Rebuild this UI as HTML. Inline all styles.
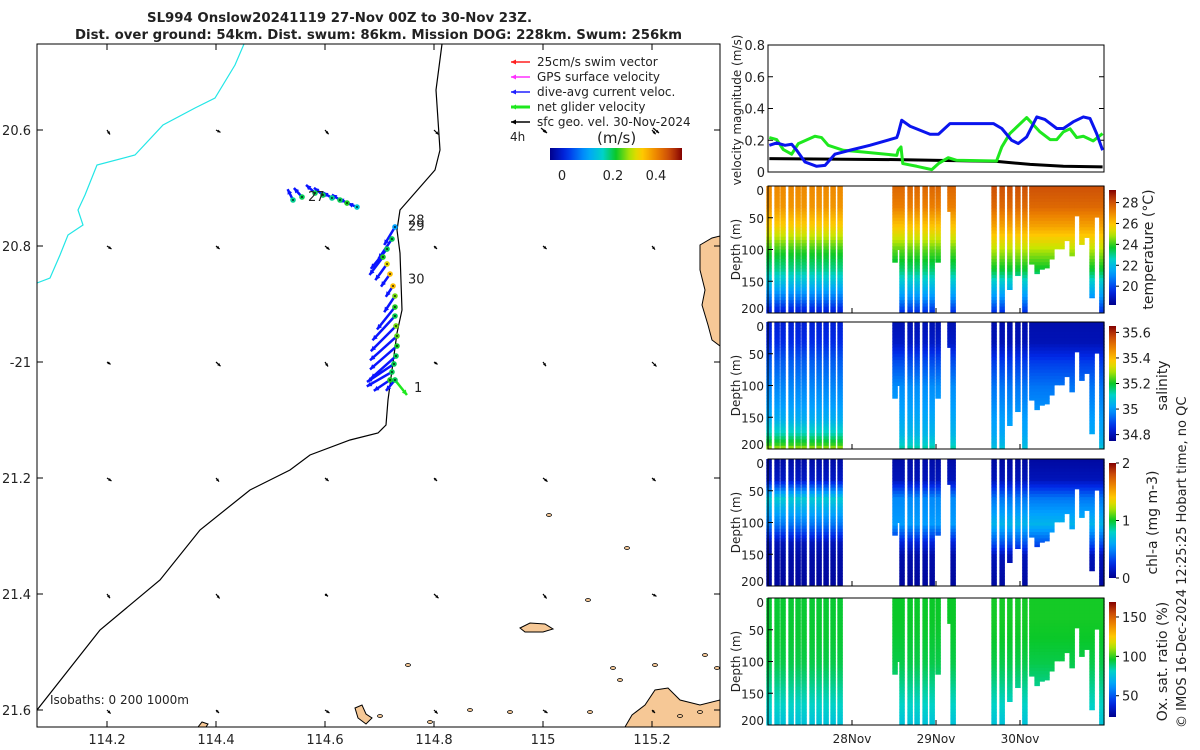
<!DOCTYPE html>
<html><head><meta charset="utf-8"><style>
html,body{margin:0;padding:0;background:#fff;width:1200px;height:750px;overflow:hidden}
svg text{font-family:"DejaVu Sans","Liberation Sans",sans-serif;fill:#222}
</style></head><body>
<svg id="fig" width="1200" height="750" viewBox="0 0 1200 750" xmlns="http://www.w3.org/2000/svg">
<text x="147" y="22" textLength="385" lengthAdjust="spacingAndGlyphs" font-size="13" font-weight="bold">SL994 Onslow20241119 27-Nov 00Z to 30-Nov 23Z.</text>
<text x="75" y="39" textLength="607" lengthAdjust="spacingAndGlyphs" font-size="13" font-weight="bold">Dist. over ground: 54km. Dist. swum: 86km. Mission DOG: 228km. Swum: 256km</text>
<text transform="translate(1186,728) rotate(-90)" font-size="13">© IMOS 16-Dec-2024 12:25:25 Hobart time, no QC</text>
</svg>
<script>
// ---------- velocity chart data ----------
const curHours=[0.38,2.48,4.86,6.76,8.19,10.57,13.9,16.3,19.1,23.4,29.1,36.8,37.2,38.2,40.6,46.3,48.7,52,64.4,66.8,69.6,71.5,73.9,76.8,79.1,82.5,84.4,87.2,90.1,92,93.9,95.6];
const curVals=[0.168,0.183,0.168,0.175,0.137,0.063,0.036,0.042,0.112,0.137,0.168,0.217,0.242,0.326,0.288,0.238,0.238,0.305,0.305,0.274,0.2,0.179,0.221,0.347,0.331,0.274,0.274,0.316,0.347,0.337,0.242,0.137];
const netHours=[0.38,2.48,4.38,6.76,8.67,13.4,15.3,17.2,21.5,27.2,36.8,37.2,38.0,38.5,42.5,46.8,48.7,51.5,53.9,65.3,66.8,69.1,73.9,77.7,80.6,82.5,84.4,86.3,88.2,90.1,92.9,95.6];
const netVals=[0.217,0.204,0.141,0.112,0.179,0.225,0.217,0.168,0.137,0.126,0.105,0.137,0.158,0.053,0.036,0.015,0.053,0.09,0.074,0.069,0.158,0.242,0.343,0.253,0.204,0.204,0.253,0.272,0.217,0.225,0.196,0.242];
const geoHours=[0.38,36.8,65.3,74.9,84.4,95.6];
const geoVals=[0.084,0.078,0.067,0.048,0.036,0.032];
const velTicks=[0,0.2,0.4,0.6,0.8];
const dayLabels=["28Nov","29Nov","30Nov"];
const dayHours=[24,48,72];
// ---------- section profiles ----------
const profHours=[0.3,2.6,4.3,6.6,8.6,10.3,12.6,14.6,16.6,18.6,20.6,
 36.3,37.1,38.3,40.6,42.6,44.9,46.9,48.6,52,52.9,
 64.6,66.9,69.1,71.4,73.4,75.4,76.9,78.3,79.7,81.1,82.6,84,85.4,86.9,88.3,89.7,91.1,92.6,94,95.4];
const profDepths=[200,200,200,200,200,200,200,200,200,200,200,
 120,100,200,200,200,200,200,120,40,200,
 200,200,163,141,200,123,138,131,129,115,99,99,86,110,47,92,81,176,49,200];
const profGroup=[0,0,0,0,0,0,0,0,0,0,0, 1,1,1,1,1,1,1,1,1,1, 2,2,2,2,2,2,2,2,2,2,2,2,2,2,2,2,2,2,2,2];
const depthTicks=[0,50,100,150,200];
const panelNames=["temperature","salinity","chl-a","oxygen"];
const panelLabels=["temperature (°C)","salinity","chl-a (mg m-3)","Ox. sat. ratio (%)"];
const cbMin=[18.2,34.75,0,23];
const cbMax=[29.2,35.65,2,169];
const cbTicks=[[20,22,24,26,28],[34.8,35,35.2,35.4,35.6],[0,1,2],[50,100,150]];
const cbTickLabels=[["20","22","24","26","28"],["34.8","35","35.2","35.4","35.6"],["0","1","2"],["50","100","150"]];
// depth knots and mean profiles per group [group0, group1, group2]
const knotDepths=[0,30,60,100,130,150,175,190,200];
const tempProf=[[27.0,26.8,25.8,23.9,23.0,22.0,20.6,19.6,19.1],[27.6,27.2,26.0,24.2,23.2,22.2,21.0,20.0,19.4],[28.0,27.6,26.6,24.8,23.6,22.3,21.0,20.0,19.4]];
const salProf=[[34.84,34.86,34.92,34.97,35.0,35.03,35.13,35.22,35.32],[34.8,34.82,34.9,34.98,35.0,35.02,35.05,35.1,35.15],[34.79,34.8,34.88,34.95,34.98,35.0,35.02,35.05,35.1]];
const chlProf=[[0.08,0.15,0.75,0.45,0.12,0.07,0.06,0.05,0.05],[0.08,0.12,0.5,0.55,0.2,0.08,0.06,0.05,0.05],[0.06,0.12,0.45,0.65,0.35,0.12,0.08,0.06,0.06]];
const oxyProf=[[95,95,95,93,88,84,80,77,76],[96,96,95,93,88,84,80,77,76],[97,97,96,93,88,84,80,77,76]];
// ---------- map data ----------
const lonTicks=[114.2,114.4,114.6,114.8,115,115.2];
const lonLabels=["114.2","114.4","114.6","114.8","115","115.2"];
const latTicks=[20.6,20.8,21,21.2,21.4,21.6];
const latLabels=["20.6","20.8","-21","21.2","21.4","21.6"];
const trackLon=[114.5413,114.5578,114.5817,114.5963,114.6128,114.6275,114.6404,114.6587,
 114.7284,114.7229,114.7138,114.7064,114.7138,114.7193,114.7248,114.7284,114.7284,114.7284,114.7303,114.7321,114.7321,114.7303,114.7266,114.7229,114.7193,114.7284];
const trackLat=[20.7207,20.7155,20.7086,20.7121,20.7172,20.7207,20.7259,20.7328,
 20.7672,20.7879,20.8052,20.8190,20.8310,20.8483,20.8690,20.8862,20.9052,20.9207,20.9379,20.9552,20.9724,20.9897,21.0034,21.0172,21.0310,21.0310];
const trackU=[-0.06,-0.09,-0.1,-0.1,-0.1,-0.09,-0.09,-0.1,
 -0.12,-0.15,-0.18,-0.15,-0.13,-0.1,-0.08,-0.12,-0.2,-0.25,-0.28,-0.3,-0.3,-0.28,-0.3,-0.28,-0.18,-0.1];
const trackV=[-0.12,-0.1,-0.09,-0.08,-0.06,-0.06,-0.05,-0.04,
 0.2,0.22,0.22,0.2,0.18,0.14,0.12,0.18,0.25,0.27,0.28,0.27,0.26,0.25,0.2,0.16,0.12,0.12];
const trackSpeed=[0.18,0.2,0.2,0.2,0.18,0.2,0.22,0.15,0.1,0.2,0.2,0.22,0.3,0.33,0.33,0.25,0.22,0.2,0.25,0.24,0.22,0.2,0.2,0.2,0.22,0.2];
const dayMarkLabels=["27","28","29","30","1"];
const dayMarkLon=[114.5688,114.7523,114.7523,114.7523,114.7633];
const dayMarkLat=[20.722,20.763,20.773,20.865,21.052];
const gridU=[0.01,0.015,0.012,0.015,0.01,0.012];
const gridV=[0.015,0.01,0.008,0.01,0.014,0.012];

const NS="http://www.w3.org/2000/svg";
const svg=document.getElementById("fig");
function el(tag,attrs,parent){const e=document.createElementNS(NS,tag);for(const k in attrs)e.setAttribute(k,attrs[k]);(parent||svg).appendChild(e);return e;}
function txt(x,y,s,size,anchor,parent){const t=el("text",{x:x,y:y,"font-size":size,"text-anchor":anchor||"start"},parent);t.textContent=s;return t;}
const cmapPos=[0,0.12,0.28,0.4,0.5,0.62,0.7,0.82,0.92,1];
const cmapCol=[[0,0,140],[0,40,230],[0,160,255],[0,210,200],[10,200,40],[200,230,0],[255,200,0],[235,125,0],[195,65,10],[130,0,0]];
function jet(t){t=Math.max(0,Math.min(1,t));let k=0;while(k<cmapPos.length-2&&t>cmapPos[k+1])k++;
 const f=(t-cmapPos[k])/(cmapPos[k+1]-cmapPos[k]);const a=cmapCol[k],b=cmapCol[k+1];
 return "rgb("+[0,1,2].map(i=>Math.round(a[i]+(b[i]-a[i])*f)).join(",")+")";}

// ===================== MAP =====================
const mapL=37,mapR=720,mapT=44,mapB=727;
const lonX=lon=>107+(lon-114.2)*545;
const latY=lat=>130+(lat-20.6)*580;
const map=el("g",{});


const cp=el("clipPath",{id:"mapclip"});
el("rect",{x:mapL,y:mapT,width:mapR-mapL,height:mapB-mapT},cp);
const mc=el("g",{"clip-path":"url(#mapclip)"},map);
const lands=[
 "M700,245 L712,238 L720,236 L720,346 L712,340 L708,325 L702,305 L705,290 L700,270 Z",
 "M625,727 L632,715 L645,705 L655,690 L668,688 L680,700 L700,705 L720,700 L720,727 Z",
 "M520,628 L530,623 L545,624 L553,629 L543,632 L525,632 Z",
 "M355,708 L362,705 L366,714 L372,718 L366,724 L358,718 Z",
 "M198,727 L202,722 L208,724 L206,727 Z"];
lands.forEach(d=>{const p=el("path",{d:d,fill:"#f6c896",stroke:"#000","stroke-width":1},mc);

});
[[549,515],[627,548],[588,600],[408,665],[613,668],[655,665],[705,655],[717,668],[470,710],[510,712],[590,712],[680,716],[700,712],[380,716],[430,722],[620,680]].forEach(p=>{
 const e=el("ellipse",{cx:p[0],cy:p[1],rx:2.5,ry:1.5,fill:"#f6c896",stroke:"#000","stroke-width":0.8},mc);
 
 });
const coast=el("polyline",{points:"442,44 436,90 440,150 435,170 400,210 397,230 400,253 402,310 397,333 392,370 388,400 386,425 378,433 350,440 310,455 290,470 250,490 200,530 160,580 100,630 37,710",fill:"none",stroke:"#000","stroke-width":1.2},mc);


const cyan=el("polyline",{points:"244,44 235,65 215,98 195,108 163,125 135,155 97,165 85,195 78,210 83,225 68,235 60,255 50,278 37,283",fill:"none",stroke:"#22e6e6","stroke-width":1.2},mc);


function arrow(parent,x,y,dx,dy,color,w,head){
 const g=el("g",{},parent);
 el("line",{x1:x,y1:y,x2:x+dx,y2:y+dy,stroke:color,"stroke-width":w},g);
 const L=Math.hypot(dx,dy)||1,ux=dx/L,uy=dy/L,h=head;
 el("polygon",{points:(x+dx)+","+(y+dy)+" "+(x+dx-ux*h-uy*h*0.5)+","+(y+dy-uy*h+ux*h*0.5)+" "+(x+dx-ux*h+uy*h*0.5)+","+(y+dy-uy*h-ux*h*0.5),fill:color},g);
 return g;}
lonTicks.forEach((lon,i)=>latTicks.forEach((lat,j)=>{
 const a=arrow(mc,lonX(lon),latY(lat),gridU[(i+j)%6]*300,gridV[(i*2+j)%6]*300,"#000",1.2,3);
 
 }));
trackLon.forEach((lon,i)=>{
 const x=lonX(lon),y=latY(trackLat[i]);
 const a=arrow(mc,x,y,trackU[i]*90,trackV[i]*90,"#0a14ff",2.5,5);
 
 });
const net=arrow(mc,lonX(114.7284),latY(21.0310),12,15,"#1ee81e",2.5,5);


trackLon.forEach((lon,i)=>{
 const d=el("circle",{cx:lonX(lon),cy:latY(trackLat[i]),r:2.8,fill:jet((trackSpeed[i]+0.05)/0.53)},mc);
 
 
 el("circle",{cx:lonX(lon),cy:latY(trackLat[i]),r:0.9,fill:"#000"},mc);});
dayMarkLabels.forEach((s,i)=>{const t=txt(lonX(dayMarkLon[i]),latY(dayMarkLat[i]),s,13,"start",mc);
 
 });
const iso=txt(50,704,"Isobaths: 0   200   1000m",12,"start",map);
iso.setAttribute("xml:space","preserve");


el("rect",{x:mapL,y:mapT,width:mapR-mapL,height:mapB-mapT,fill:"none",stroke:"#000","stroke-width":1},map);
lonTicks.forEach((lon,i)=>{const x=lonX(lon);
 el("line",{x1:x,y1:mapB,x2:x,y2:mapB-6,stroke:"#000"},map);
 el("line",{x1:x,y1:mapT,x2:x,y2:mapT+6,stroke:"#000"},map);
 const t=txt(x,744,lonLabels[i],13,"middle",map);
 
 });
latTicks.forEach((lat,i)=>{const y=latY(lat);
 el("line",{x1:mapL,y1:y,x2:mapL+6,y2:y,stroke:"#000"},map);
 el("line",{x1:mapR,y1:y,x2:mapR-6,y2:y,stroke:"#000"},map);
 const t=txt(31,y+5,latLabels[i],13,"end",map);
 
 });
const leg=el("g",{},map);


const legText=["25cm/s swim vector","GPS surface velocity","dive-avg current veloc.","net glider velocity","sfc geo. vel. 30-Nov-2024"];
const legCol=["#ff2020","#ff30ff","#2020ff","#1ee81e","#000"];
legText.forEach((s,i)=>{const y=62+i*15;
 arrow(leg,530,y,-19,0,legCol[i],i==3?3:1.5,5);
 const t=txt(537,y+4,s,12,"start",leg);
 
 });
txt(510,141,"4h",12,"start",leg);
arrow(leg,541,128,6,5,"#000",1.2,3);arrow(leg,653,128,6,5,"#000",1.2,3);
txt(597,143,"(m/s)",15,"start",leg);
const lg=el("linearGradient",{id:"jetg",x1:0,x2:1,y1:0,y2:0});
for(let k=0;k<=20;k++)el("stop",{offset:k/20,"stop-color":jet(k/20)},lg);
const lgv=el("linearGradient",{id:"jetv",x1:0,x2:0,y1:1,y2:0});
for(let k=0;k<=20;k++)el("stop",{offset:k/20,"stop-color":jet(k/20)},lgv);
const cbm=el("rect",{x:550,y:148,width:132,height:12,fill:"url(#jetg)"},leg);


[["0",562],["0.2",613],["0.4",656]].forEach(p=>txt(p[1],180,p[0],13,"middle",leg));

// ===================== VELOCITY CHART =====================
const vL=768,vR=1104,vT=45,vB=172;
const hx=h=>vL+h*3.5;
const vy=v=>vB-(v/0.8)*(vB-vT);
const vel=el("g",{});


el("rect",{x:vL,y:vT,width:vR-vL,height:vB-vT,fill:"none",stroke:"#000"},vel);
velTicks.forEach(v=>{const y=vy(v);
 el("line",{x1:vL,y1:y,x2:vL+5,y2:y,stroke:"#000"},vel);
 el("line",{x1:vR,y1:y,x2:vR-5,y2:y,stroke:"#000"},vel);
 const t=txt(765,y+5,String(v),13,"end",vel);
 
 });
const vlab=txt(0,0,"velocity magnitude (m/s)",12,"middle",vel);
vlab.setAttribute("transform","translate(741,110) rotate(-90)");


function series(hs,vs,color,name){
 const l=el("polyline",{points:hs.map((h,i)=>hx(h)+","+vy(vs[i])).join(" "),fill:"none",stroke:color,"stroke-width":3,"stroke-linejoin":"round"},vel);
 
 }
series(geoHours,geoVals,"#000","geostrophic-speed-line");
series(netHours,netVals,"#1ee81e","net-glider-speed-line");
series(curHours,curVals,"#0a14ee","current-speed-line");

// ===================== SECTIONS =====================
const pTops=[186,322,459,598],pH=127;
const profs=[tempProf,salProf,chlProf,oxyProf];
function value(p,d,g){
 const arr=profs[p][g];let k=0;while(k<knotDepths.length-2&&d>knotDepths[k+1])k++;
 const f=(d-knotDepths[k])/(knotDepths[k+1]-knotDepths[k]);
 return arr[k]+(arr[k+1]-arr[k])*f;}
for(let p=0;p<4;p++){
 const top=pTops[p],dy=d=>top+d/200*pH;
 const g=el("g",{});
 
 
 profHours.forEach((h,i)=>{
  const w=5.5;
  for(let d=0;d<profDepths[i];d+=5){
   const v=value(p,d,profGroup[i]);
   el("rect",{x:hx(h)-w/2,y:dy(d),width:w,height:Math.min(5,profDepths[i]-d)*pH/200+0.5,fill:jet((v-cbMin[p])/(cbMax[p]-cbMin[p]))},g);}
 });
 el("rect",{x:vL,y:top,width:vR-vL,height:pH,fill:"none",stroke:"#000"},g);
 depthTicks.forEach(d=>{const y=dy(d);
  el("line",{x1:vL,y1:y,x2:vL+5,y2:y,stroke:"#000"},g);
  const t=txt(764,y+(d==0?9:d==200?0:5),String(d),12,"end",g);
  
  });
 dayHours.forEach(h=>{el("line",{x1:hx(h),y1:top+pH,x2:hx(h),y2:top+pH-5,stroke:"#000"},g);});
 const dl=txt(0,0,"Depth (m)",12,"middle",g);
 dl.setAttribute("transform","translate(740,"+(top+pH/2)+") rotate(-90)");
 
 
 const cbT=top+4,cbH=pH-12;
 const cb=el("rect",{x:1109,y:cbT,width:7,height:cbH,fill:"url(#jetv)"},g);
 
 
 cbTicks[p].forEach((v,k)=>{const y=cbT+cbH-(v-cbMin[p])/(cbMax[p]-cbMin[p])*cbH;
  el("line",{x1:1116,y1:y,x2:1119,y2:y,stroke:"#000"},g);
  const t=txt(1122,y+5,cbTickLabels[p][k],13,"start",g);
  
  });
 const lx=[1153,1167,1157,1167][p];
 const cl=txt(0,0,panelLabels[p],14,"middle",g);
 cl.setAttribute("transform","translate("+lx+","+(top+pH/2)+") rotate(-90)");
 
 
}
dayLabels.forEach((s,i)=>{const t=txt(hx(dayHours[i]),743,s,12,"middle");
 
 });
</script>
</body></html>
